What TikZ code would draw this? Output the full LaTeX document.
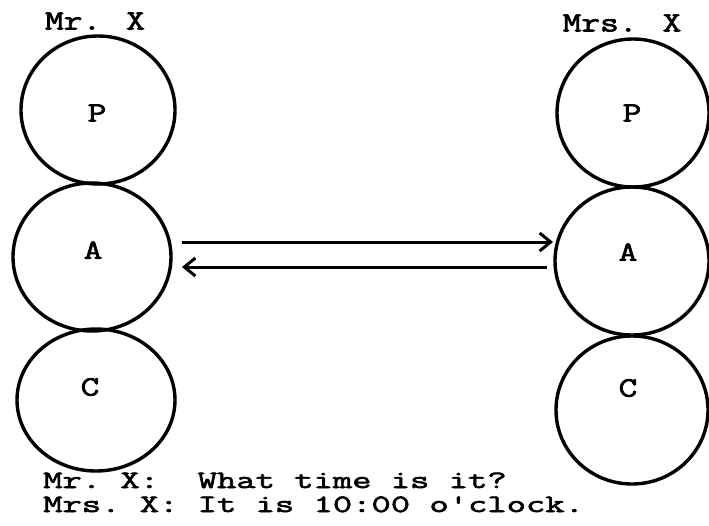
\documentclass[tikz,border=0pt]{standalone}
\usepackage{fontspec}
\setmonofont[FakeStretch=1.5,FakeBold=2.5]{Latin Modern Mono}
\newfontfamily\labfont[FakeStretch=1.3,FakeBold=2.5]{Latin Modern Mono}
\usetikzlibrary{shapes.geometric,arrows.meta}
\begin{document}
\begin{tikzpicture}[x=1pt,y=-1pt,
  ring/.style={draw,ellipse,line width=3.4pt,inner sep=0pt},
  lab/.style={font=\labfont\fontsize{28}{28}\selectfont,inner sep=0pt},
  txt/.style={font=\ttfamily\fontsize{25}{25}\selectfont,inner sep=0pt,anchor=base west},
  msg/.style={line width=3pt,-{Straight Barb[length=11pt,width=18pt,line width=3pt]}}]
\useasboundingbox (0,0) rectangle (709,525);
% left column
\node[ring,minimum width=154pt,minimum height=148pt] (LP) at (98,110) {};
\node[ring,minimum width=158pt,minimum height=148pt] (LA) at (92,257) {};
\node[ring,minimum width=158pt,minimum height=142pt] (LC) at (96,400) {};
% right column
\node[ring,minimum width=152pt,minimum height=148pt] (RP) at (633,113) {};
\node[ring,minimum width=154pt,minimum height=148pt] (RA) at (632,261) {};
\node[ring,minimum width=152pt,minimum height=148pt] (RC) at (632,410) {};
% letters
\node[lab] (lpl) at (97,113) {P};
\node[lab] (lal) at (93,250) {A};
\node[lab] (lcl) at (90,387) {C};
\node[lab] (rpl) at (632,113) {P};
\node[lab] (ral) at (628,252) {A};
\node[lab] (rcl) at (628,388) {C};
% titles
\node[lab] (mrx) at (95,21) {Mr. X};
\node[lab] (mrsx) at (622,23) {Mrs. X};
% arrows
\coordinate (a1s) at (182,242);
\coordinate (a1e) at (553,242);
\coordinate (a2s) at (547,267);
\coordinate (a2e) at (182,267);
\draw[msg] (a1s) -- (a1e);
\draw[msg] (a2s) -- (a2e);
% dialogue
\node[txt] (l1) at (43,488) {Mr.\ X:\ \ What time is it?};
\node[txt] (l2) at (43,512) {Mrs.\ X: It is 10:00 o'clock.};
\end{tikzpicture}
\end{document}
